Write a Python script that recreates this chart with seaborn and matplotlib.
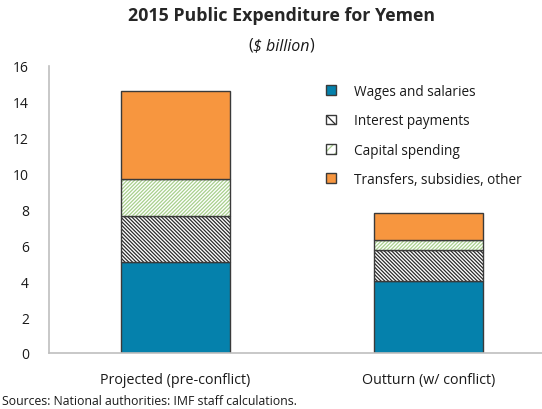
import matplotlib
matplotlib.use("Agg")
import matplotlib.pyplot as plt
from matplotlib.patches import Patch
from matplotlib.legend_handler import HandlerTuple
import numpy as np
import pandas as pd
import seaborn as sns

# data ($ billion)
scenarios = ["Projected (pre-conflict)", "Outturn (w/ conflict)"]
components = ["Wages and salaries", "Interest payments", "Capital spending",
              "Transfers, subsidies, other"]
wages = [5.05, 4.0]
interest = [2.6, 1.76]
capital = [2.05, 0.54]
transfers = [4.9, 1.52]

sns.set_style("white")
plt.rcParams["font.family"] = ["Open Sans", "DejaVu Sans"]
plt.rcParams["hatch.linewidth"] = 0.9

blue = "#0581AC"
orange = "#F7963F"
green = "#A8D08D"
dark = "#3A3A3A"
txt = "#1a1a1a"

styles = {
    "Wages and salaries": dict(color=blue, hatch=None, hatchcol=None),
    "Interest payments": dict(color="white", hatch="\\" * 9, hatchcol="#2b2b2b"),
    "Capital spending": dict(color="white", hatch="/" * 9, hatchcol=green),
    "Transfers, subsidies, other": dict(color=orange, hatch=None, hatchcol=None),
}

df = pd.DataFrame({"scenario": scenarios,
                   "Wages and salaries": wages,
                   "Interest payments": interest,
                   "Capital spending": capital,
                   "Transfers, subsidies, other": transfers})

fig = plt.figure(figsize=(5.42, 4.10), dpi=100)
ax = fig.add_axes([48.5 / 542, 56 / 410, (555 - 48.5) / 542, 287 / 410])

bottom = np.zeros(len(df))
handles = []
for comp in components:
    st = styles[comp]
    ec = st["hatchcol"] if st["hatch"] else st["color"]
    # fill (and hatch, whose colour follows the edge colour)
    sns.barplot(data=df, x="scenario", y=comp, bottom=bottom, width=0.43,
                color=st["color"], saturation=1, hatch=st["hatch"],
                edgecolor=ec, linewidth=0, ax=ax)
    # dark outline on top
    sns.barplot(data=df, x="scenario", y=comp, bottom=bottom, width=0.43,
                color=dark, saturation=1, fill=False, edgecolor=dark,
                linewidth=1.0, ax=ax)
    bottom = bottom + df[comp].values
    h_fill = Patch(facecolor=st["color"], edgecolor=ec,
                   hatch=("\\\\\\" if st["hatch"] and "\\" in st["hatch"]
                          else ("///" if st["hatch"] else None)),
                   linewidth=0)
    h_edge = Patch(facecolor="none", edgecolor=dark, linewidth=1.0)
    handles.append((h_fill, h_edge))

ax.set_xlim(-0.5, 1.5)
ax.set_ylim(0, 16)
ax.set_yticks(range(0, 17, 2))
ax.set_xlabel("")
ax.set_ylabel("")
ax.set_xticks([0, 1])
ax.set_xticklabels(scenarios, fontsize=10.3, color=txt)
ax.tick_params(axis="x", length=0, pad=14)
ax.set_xticks([0.5], minor=True)
ax.tick_params(axis="x", which="minor", direction="in", length=4,
               color="#BFBFBF", width=1)
ax.tick_params(axis="y", direction="out", length=4, color="#BFBFBF",
               width=1, labelsize=10, labelcolor=txt, pad=10)

for side in ["top", "right"]:
    ax.spines[side].set_visible(False)
for side in ["left", "bottom"]:
    ax.spines[side].set_color("#BFBFBF")
    ax.spines[side].set_linewidth(1.2)

fig.legend(handles, components, handler_map={tuple: HandlerTuple(ndivide=1)},
           loc="upper left", bbox_to_anchor=(326 / 542, 1 - 85 / 410),
           frameon=False, fontsize=9.8, labelcolor=txt,
           handlelength=0.7, handleheight=0.7,
           handletextpad=1.35, labelspacing=1.05, borderpad=0, borderaxespad=0)

fig.text(281 / 542, 1 - 16 / 410, "2015 Public Expenditure for Yemen",
         ha="center", va="center", fontsize=12.8, fontweight="bold")

# subtitle: upright parentheses around italic text
sub_y = 1 - 46 / 410
mid = fig.text(281 / 542, sub_y, "$ billion", ha="center", va="center",
               fontsize=11.5, style="italic", color=txt)
renderer = fig.canvas.get_renderer()
bb = mid.get_window_extent(renderer).transformed(fig.transFigure.inverted())
fig.text(bb.x0, sub_y, "(", ha="right", va="center", fontsize=11.5,
         color=txt)
fig.text(bb.x1, sub_y, ")", ha="left", va="center", fontsize=11.5,
         color=txt)

fig.text(2 / 542, 1 - 402 / 410,
         "Sources: National authorities: IMF staff calculations.",
         ha="left", va="center", fontsize=8.8, color=txt)

fig.savefig("out.png", dpi=100)
